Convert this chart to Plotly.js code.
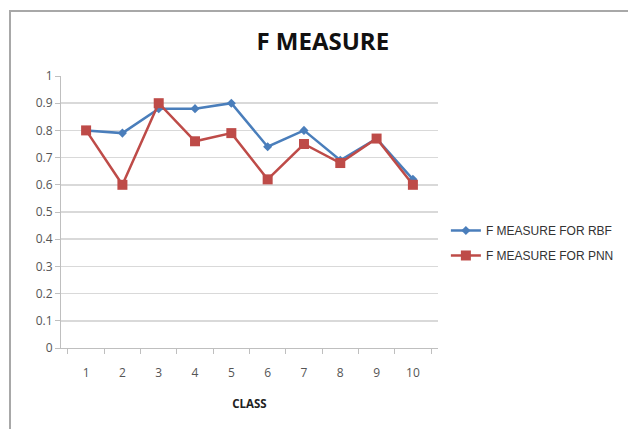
<!DOCTYPE html>
<html>
<head>
<meta charset="utf-8">
<script src="https://cdn.plot.ly/plotly-3.0.1.min.js"></script>
<style>
  html, body { margin: 0; padding: 0; background: #fff; }
  #wrap { position: relative; width: 628px; height: 429px; overflow: hidden; }
  #frame { position: absolute; left: 9px; top: 10px; width: 700px; height: 500px; border: 2px solid #a8a8a8; box-sizing: border-box; }
  #chart { position: absolute; left: 0; top: 0; width: 628px; height: 429px; }
</style>
</head>
<body>
<div id="wrap">
  <div id="frame"></div>
  <div id="chart"></div>
</div>
<script>
const classes = ["1", "2", "3", "4", "5", "6", "7", "8", "9", "10"];
const rbf = [0.80, 0.79, 0.88, 0.88, 0.90, 0.74, 0.80, 0.69, 0.77, 0.62];
const pnn = [0.80, 0.60, 0.90, 0.76, 0.79, 0.62, 0.75, 0.68, 0.77, 0.60];
const yTicks = [0, 0.1, 0.2, 0.3, 0.4, 0.5, 0.6, 0.7, 0.8, 0.9, 1];
const yTickText = ["0", "0.1", "0.2", "0.3", "0.4", "0.5", "0.6", "0.7", "0.8", "0.9", "1"];

const traces = [
  {
    x: classes, y: rbf, type: "scatter", mode: "lines+markers",
    name: "F MEASURE FOR RBF", legendgroup: "a",
    line: { color: "#4a7ebb", width: 2.5 },
    marker: { symbol: "diamond", size: 7, color: "#4a7ebb" }
  },
  {
    x: classes, y: pnn, type: "scatter", mode: "lines+markers",
    name: "F MEASURE FOR PNN", legendgroup: "b",
    line: { color: "#be4b48", width: 2.5 },
    marker: { symbol: "square", size: 10, color: "#be4b48" }
  }
];

const layout = {
  width: 628, height: 429,
  paper_bgcolor: "rgba(0,0,0,0)", plot_bgcolor: "rgba(0,0,0,0)",
  margin: { l: 61, r: 190, t: 76, b: 81 },
  font: { family: "Open Sans, Liberation Sans, sans-serif", color: "#555", size: 12 },
  title: {
    text: "<b>F MEASURE</b>",
    font: { family: "Open Sans, sans-serif", size: 24, color: "#111" },
    x: 0.514, xref: "container", xanchor: "center",
    y: 0.904, yref: "container", yanchor: "middle"
  },
  xaxis: {
    type: "category", tickson: "boundaries",
    ticks: "outside", ticklen: 5, tickcolor: "#bfbfbf", tickwidth: 1,
    showline: true, linecolor: "#bfbfbf", linewidth: 1,
    showgrid: false, zeroline: false,
    ticklabelstandoff: 14,
    tickfont: { size: 12, color: "#555" },
    title: { text: "<b>CLASS</b>", font: { size: 11.5, color: "#222" }, standoff: 19 }
  },
  yaxis: {
    range: [0, 1], tickvals: yTicks, ticktext: yTickText,
    ticks: "outside", ticklen: 5, tickcolor: "#bfbfbf",
    showline: true, linecolor: "#bfbfbf", linewidth: 1,
    showgrid: true, gridcolor: "#d9d9d9", gridwidth: 1.5,
    zeroline: false, tickfont: { size: 12, color: "#555" }
  },
  showlegend: true,
  legend: {
    xref: "container", yref: "container",
    x: 0.71, xanchor: "left", y: 0.4336, yanchor: "middle",
    traceorder: "grouped", tracegroupgap: 6,
    font: { size: 12, color: "#333", family: "Liberation Sans, sans-serif" },
    bgcolor: "rgba(0,0,0,0)"
  }
};

Plotly.newPlot("chart", traces, layout, { displayModeBar: false, staticPlot: true });
</script>
</body>
</html>
